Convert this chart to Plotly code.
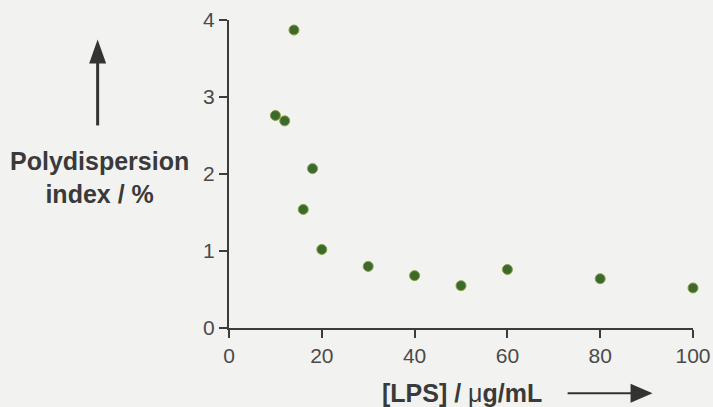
import plotly.graph_objects as go

# Data
lps_conc = [10, 12, 14, 16, 18, 20, 30, 40, 50, 60, 80, 100]
pdi = [2.76, 2.69, 3.87, 1.54, 2.07, 1.02, 0.80, 0.68, 0.55, 0.76, 0.64, 0.52]
x_ticks = [0, 20, 40, 60, 80, 100]
y_ticks = [0, 1, 2, 3, 4]

W, H = 713, 407
L, R, T, B = 229, 19.5, 19.5, 79.3
pw, ph = W - L - R, H - T - B

def px(x):
    return (x - L) / pw

def py(y):
    return (H - B - y) / ph

BG = "#f2f2f0"
AX = "#3c3c3c"
TXT = "#4a4a4a"
FONT = "Liberation Sans, Arial, Helvetica, sans-serif"

fig = go.Figure()
fig.add_trace(go.Scatter(
    x=lps_conc, y=pdi, mode="markers",
    marker=dict(size=10, color="#3b6a2c", line=dict(width=1, color="#8da23e")),
    cliponaxis=False, showlegend=False, hoverinfo="x+y",
))

fig.update_layout(
    width=W, height=H,
    margin=dict(l=L, r=R, t=T, b=B, pad=0),
    paper_bgcolor=BG, plot_bgcolor=BG,
    font=dict(family=FONT, color=TXT, size=21),
    xaxis=dict(range=[0, 100], tickvals=x_ticks, showgrid=False, zeroline=False,
               showline=True, linecolor=AX, linewidth=2, ticks="outside",
               ticklen=8, tickwidth=2, tickcolor=AX, automargin=False,
               tickfont=dict(size=21, color=TXT, family=FONT)),
    yaxis=dict(range=[0, 4], tickvals=y_ticks, showgrid=False, zeroline=False,
               showline=True, linecolor=AX, linewidth=2, ticks="outside",
               ticklen=8, tickwidth=2, tickcolor=AX, automargin=False,
               tickfont=dict(size=21, color=TXT, family=FONT)),
)

# Axis titles
fig.add_annotation(xref="paper", yref="paper", x=px(99), y=py(177),
                   text="<b>Polydispersion<br>index / %</b>", showarrow=False,
                   xanchor="center", yanchor="middle", align="center",
                   font=dict(size=25, color="#3a3a3a", family=FONT))
fig.add_annotation(xref="paper", yref="paper", x=px(462), y=py(393),
                   text="<b>[LPS] / </b>μ<b>g/mL</b>", showarrow=False,
                   xanchor="center", yanchor="middle",
                   font=dict(size=25, color="#3a3a3a", family=FONT))

# Up arrow
fig.add_shape(type="line", xref="paper", yref="paper",
              x0=px(97.5), y0=py(125), x1=px(97.5), y1=py(60),
              line=dict(color="#333333", width=3))
fig.add_shape(type="path", xref="paper", yref="paper",
              path=f"M {px(97.5)} {py(39)} L {px(89)} {py(63)} L {px(106)} {py(63)} Z",
              fillcolor="#333333", line=dict(width=0))
# Right arrow
fig.add_shape(type="line", xref="paper", yref="paper",
              x0=px(568), y0=py(393), x1=px(634), y1=py(393),
              line=dict(color="#333333", width=2))
fig.add_shape(type="path", xref="paper", yref="paper",
              path=f"M {px(653)} {py(393)} L {px(631)} {py(383.5)} L {px(631)} {py(402.5)} Z",
              fillcolor="#333333", line=dict(width=0))

fig.write_html("out.html", config={"displayModeBar": False})

# remove default page margin so the figure sits at the window's top-left corner
with open("out.html", "r", encoding="utf-8") as f:
    html = f.read()
html = html.replace("<head>", "<head><style>html,body{margin:0;padding:0;background:%s;overflow:hidden;}</style>" % BG, 1)
with open("out.html", "w", encoding="utf-8") as f:
    f.write(html)
